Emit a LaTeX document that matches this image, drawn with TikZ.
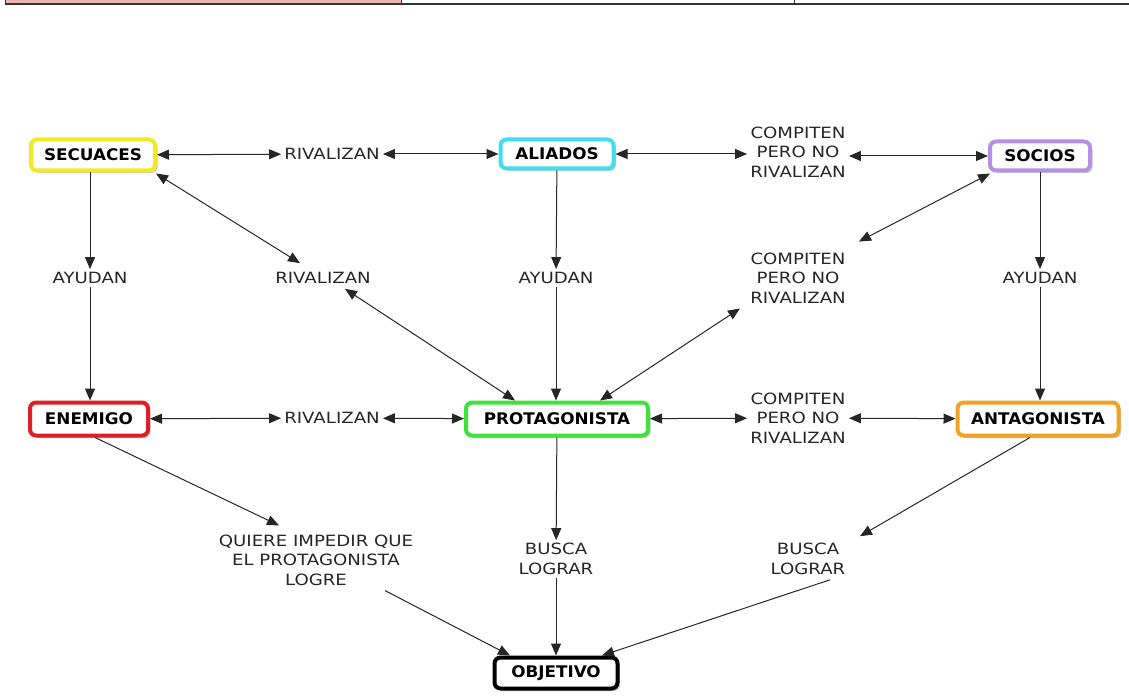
\documentclass[tikz,border=0pt]{standalone}
\usepackage{fontspec}
\setmainfont{DejaVu Sans}
\newfontfamily\lblfont[FakeStretch=1.17]{DejaVu Sans}
\newfontfamily\boxfont[FakeStretch=1.05]{DejaVu Sans Bold}
\usetikzlibrary{arrows.meta,shadows}
\definecolor{cyel}{HTML}{F2EA1E}
\definecolor{ccyan}{HTML}{3FDDEE}
\definecolor{cpurp}{HTML}{B391E6}
\definecolor{cred}{HTML}{DD1E24}
\definecolor{cgreen}{HTML}{3EE23A}
\definecolor{corange}{HTML}{F0A224}
\definecolor{cpink}{HTML}{E8B4B4}
\begin{document}
\begin{tikzpicture}[x=1pt,y=-1pt,
  concept/.style={draw=#1, line width=4pt, rounded corners=6pt, fill=white,
    font=\boxfont\fontsize{16}{18}\selectfont, inner sep=0pt,
    drop shadow={shadow xshift=2.5pt, shadow yshift=-2.5pt, fill=black!35, opacity=0.6}},
  lbl/.style={font=\lblfont\fontsize{15.5}{19.5}\selectfont, align=center, inner sep=3pt, text=black!85},
  link/.style={line width=1pt, draw=black!85, -{Triangle[length=12pt,width=10pt]}},
  dlink/.style={line width=1pt, draw=black!85, {Triangle[length=12pt,width=10pt]}-{Triangle[length=12pt,width=10pt]}}
]
\useasboundingbox (0,0) rectangle (1129,700);
% table remnant at top
\fill[cpink] (5,0) rectangle (401,3.5);
\draw[line width=1.6pt, black!80] (5,4) -- (1129,4);
\draw[line width=0.8pt, black!80] (5,0) -- (5,4);
\draw[line width=0.8pt, black!80] (401,0) -- (401,4);
\draw[line width=0.8pt, black!80] (794,0) -- (794,4);

% concept boxes
\node[concept=cyel, minimum width=124pt, minimum height=31pt] (secuaces) at (93,155) {SECUACES};
\node[concept=ccyan, minimum width=113pt, minimum height=29pt] (aliados) at (557,154) {ALIADOS};
\node[concept=cpurp, minimum width=100pt, minimum height=29pt] (socios) at (1040,156) {SOCIOS};
\node[concept=cred, minimum width=118pt, minimum height=33pt] (enemigo) at (89,419) {ENEMIGO};
\node[concept=cgreen, minimum width=182pt, minimum height=33pt] (protag) at (557,419) {PROTAGONISTA};
\node[concept=corange, minimum width=161pt, minimum height=33pt] (antag) at (1038,419) {ANTAGONISTA};
\node[concept=black, minimum width=123pt, minimum height=31pt] (objetivo) at (556,673) {OBJETIVO};

% linking phrases
\node[lbl] (rivtop) at (332,154) {RIVALIZAN};
\node[lbl] (comptop) at (798,152) {COMPITEN\\PERO NO\\RIVALIZAN};
\node[lbl] (ayuL) at (90,278) {AYUDAN};
\node[lbl] (rivmid) at (323,278) {RIVALIZAN};
\node[lbl] (ayuC) at (556,278) {AYUDAN};
\node[lbl] (compmid) at (798,278) {COMPITEN\\PERO NO\\RIVALIZAN};
\node[lbl] (ayuR) at (1040,278) {AYUDAN};
\node[lbl] (rivbot) at (332,418) {RIVALIZAN};
\node[lbl] (compbot) at (798,418) {COMPITEN\\PERO NO\\RIVALIZAN};
\node[lbl] (quiere) at (316,560) {QUIERE IMPEDIR QUE\\EL PROTAGONISTA\\LOGRE};
\node[lbl] (buscaC) at (556,559) {BUSCA\\LOGRAR};
\node[lbl] (buscaR) at (808,559) {BUSCA\\LOGRAR};

% top row
\draw[dlink] (secuaces) -- (rivtop);
\draw[dlink] (rivtop) -- (aliados);
\draw[dlink] (aliados) -- (comptop.west |- aliados);
\draw[dlink] (comptop.east |- socios) -- (socios);

% middle row
\draw[dlink] (enemigo) -- (rivbot);
\draw[dlink] (rivbot) -- (protag);
\draw[dlink] (protag) -- (compbot);
\draw[dlink] (compbot) -- (antag);

% vertical links
\draw[link] (secuaces.south -| ayuL) -- (ayuL);
\draw[link] (ayuL) -- (enemigo.north -| ayuL);
\draw[link] (aliados) -- (ayuC);
\draw[link] (ayuC) -- (protag.north -| ayuC);
\draw[link] (socios.south -| ayuR) -- (ayuR);
\draw[link] (ayuR) -- (antag.north -| ayuR);

% diagonals
\draw[dlink] ([xshift=-1pt,yshift=-1pt]secuaces.south east) -- ([xshift=-23pt,yshift=6pt]rivmid.north);
\draw[dlink] ([xshift=22pt,yshift=-2pt]rivmid.south) -- ([xshift=-42pt]protag.north);
\draw[dlink] ([xshift=2pt,yshift=-1pt]socios.south west) -- ([xshift=10pt,yshift=8pt]compmid.north east);
\draw[dlink] ([xshift=-58pt,yshift=-2pt]compmid.south) -- ([xshift=43pt]protag.north);

% bottom
\draw[link] ([xshift=6pt]enemigo.south) -- ([xshift=-37pt,yshift=6pt]quiere.north);
\draw[link] ([xshift=69pt,yshift=-2pt]quiere.south) -- ([xshift=-46pt]objetivo.north);
\draw[link] (protag) -- (buscaC);
\draw[link] (buscaC) -- (objetivo);
\draw[link] ([xshift=-8pt]antag.south) -- ([xshift=52pt,yshift=4pt]buscaR.north);
\draw[link] ([xshift=22pt,yshift=-2pt]buscaR.south) -- ([xshift=46pt]objetivo.north);
\end{tikzpicture}
\end{document}
